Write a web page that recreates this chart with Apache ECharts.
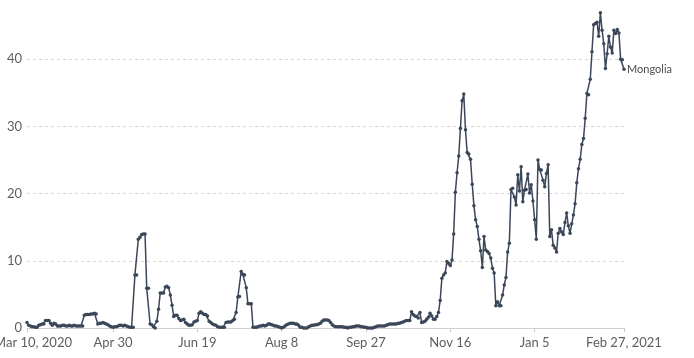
<!DOCTYPE html>
<html>
<head>
<meta charset="utf-8">
<script src="https://cdn.jsdelivr.net/npm/echarts@6/dist/echarts.min.js"></script>
<style>
html,body{margin:0;padding:0;background:#fff;}
#chart{width:694px;height:358px;}
</style>
</head>
<body>
<div id="chart"></div>
<script>
// Daily values, Mar 10, 2020 .. Feb 27, 2021 (355 days)
const startDate = [2020, 2, 10]; // year, monthIndex, day
const seriesName = 'Mongolia';
const values = [
0.8,0.4,0.3,0.2,0.2,0.1,0.1,0.4,0.5,0.6,
0.6,1.1,1.1,1.1,0.7,0.4,0.7,0.6,0.3,0.3,
0.3,0.4,0.4,0.3,0.3,0.4,0.3,0.3,0.4,0.3,
0.3,0.3,0.3,0.3,1.9,2.0,2.0,2.0,2.1,2.1,
2.2,2.1,0.6,0.7,0.7,0.8,0.7,0.6,0.5,0.3,
0.2,0.1,0.2,0.2,0.3,0.4,0.4,0.3,0.4,0.3,
0.2,0.1,0.1,0.1,7.9,7.9,13.2,13.5,13.9,14.0,
14.0,5.9,5.9,0.6,0.5,0.2,0.0,1.0,2.8,5.2,
5.2,5.2,6.1,6.2,6.0,4.9,3.4,1.7,1.9,1.9,
1.4,1.1,1.2,1.3,0.8,0.6,0.4,0.4,0.5,0.9,
1.0,1.1,2.2,2.4,2.2,2.0,2.0,1.8,1.0,0.8,
0.6,0.5,0.4,0.2,0.1,0.1,0.1,0.1,0.8,0.9,
0.9,0.9,1.1,1.3,2.3,4.6,4.7,8.4,8.0,7.9,
6.0,3.6,3.6,3.6,0.1,0.1,0.1,0.2,0.3,0.3,
0.4,0.3,0.4,0.6,0.6,0.5,0.4,0.3,0.3,0.2,
0.1,0.0,0.1,0.3,0.5,0.6,0.7,0.7,0.7,0.6,
0.6,0.4,0.1,0.1,0.0,0.0,0.0,0.2,0.3,0.4,
0.4,0.5,0.5,0.6,0.7,1.0,1.2,1.2,1.2,1.1,
0.8,0.5,0.3,0.2,0.2,0.2,0.2,0.2,0.1,0.1,
0.0,0.1,0.1,0.2,0.2,0.3,0.3,0.3,0.2,0.2,
0.1,0.1,0.0,0.0,0.0,0.0,0.1,0.2,0.3,0.3,
0.3,0.3,0.3,0.4,0.5,0.6,0.6,0.6,0.6,0.6,
0.7,0.7,0.8,0.9,1.0,1.1,1.1,1.1,2.4,2.0,
1.8,1.7,1.5,2.3,0.8,0.9,1.0,1.3,1.6,2.2,
1.8,1.3,1.3,1.7,2.3,4.1,7.4,7.9,8.2,9.9,
9.6,9.3,10.1,14.0,20.2,23.1,25.6,29.7,33.8,34.8,
29.5,26.1,25.9,25.1,21.4,18.2,16.1,15.1,13.2,11.5,
9.0,13.6,11.6,11.4,11.1,10.4,8.9,8.2,3.3,3.9,
3.3,3.3,4.9,6.4,7.5,11.3,12.6,20.6,20.8,19.5,
18.3,22.8,20.4,24.0,18.8,20.5,20.6,22.9,20.1,21.3,
18.9,16.1,13.2,25.0,23.6,23.5,22.0,21.0,23.0,24.3,
13.6,14.6,12.3,11.9,11.3,14.1,14.8,14.3,13.9,15.7,
17.1,15.2,14.1,15.5,16.8,18.5,21.6,23.7,25.1,27.3,
28.2,31.2,34.9,34.7,37.0,41.1,45.1,45.3,45.5,43.4,
46.9,44.3,42.3,38.6,40.8,43.4,41.8,40.9,44.3,43.8,
44.4,43.9,40.0,39.9,38.5
];
// x tick positions (day index) and their labels
const tickIndices = [0, 51, 101, 151, 201, 251, 301, 354];
const tickLabels = ['Mar 10, 2020', 'Apr 30', 'Jun 19', 'Aug 8', 'Sep 27', 'Nov 16', 'Jan 5', 'Feb 27, 2021'];
const yInterval = 10;
const yMax = 48.8;

const categories = values.map((v, i) => {
  const d = new Date(Date.UTC(startDate[0], startDate[1], startDate[2] + i));
  return d.toISOString().slice(0, 10);
});
const labelFor = {};
tickIndices.forEach((t, k) => { labelFor[t] = tickLabels[k]; });

const chart = echarts.init(document.getElementById('chart'), null, {renderer: 'canvas'});
chart.setOption({
  animation: false,
  backgroundColor: '#ffffff',
  grid: {left: 27, right: 70, top: 0, bottom: 30, containLabel: false, outerBoundsMode: 'none'},
  xAxis: {
    type: 'category',
    data: categories,
    boundaryGap: false,
    axisLine: {show: true, lineStyle: {color: '#d0d0d0', width: 1}},
    axisTick: {show: true, length: 4, interval: (i) => labelFor[i] !== undefined, lineStyle: {color: '#c8c8c8'}},
    axisLabel: {
      interval: (i) => labelFor[i] !== undefined,
      formatter: (v, i) => i === 0 ? '{first|' + labelFor[i] + '}' : (labelFor[i] || ''),
      rich: {first: {padding: [0, 0, 0, 12], color: '#5e5e5e', fontFamily: 'Lato', fontSize: 13}},
      color: '#5e5e5e',
      fontFamily: 'Lato',
      fontSize: 13,
      margin: 8,
      hideOverlap: false,
      showMinLabel: true,
      showMaxLabel: true
    },
    splitLine: {show: false}
  },
  yAxis: {
    type: 'value',
    min: 0,
    max: yMax,
    interval: yInterval,
    axisLine: {show: false},
    axisTick: {show: false},
    axisLabel: {color: '#5e5e5e', fontFamily: 'Lato', fontSize: 13, margin: 5, showMaxLabel: false},
    splitLine: {show: true, showMaxLine: false, lineStyle: {color: '#d6d6d6', type: [3, 3], width: 1}}
  },
  series: [{
    name: seriesName,
    type: 'line',
    data: values,
    symbol: 'circle',
    symbolSize: 3.5,
    showSymbol: true,
    showAllSymbol: true,
    lineStyle: {color: '#3b4759', width: 1.5},
    itemStyle: {color: '#3b4759'},
    clip: false,
    endLabel: {
      show: true,
      formatter: seriesName,
      color: '#4d4d4d',
      fontFamily: 'Lato',
      fontSize: 11,
      distance: 3
    }
  }]
});
</script>
</body>
</html>
